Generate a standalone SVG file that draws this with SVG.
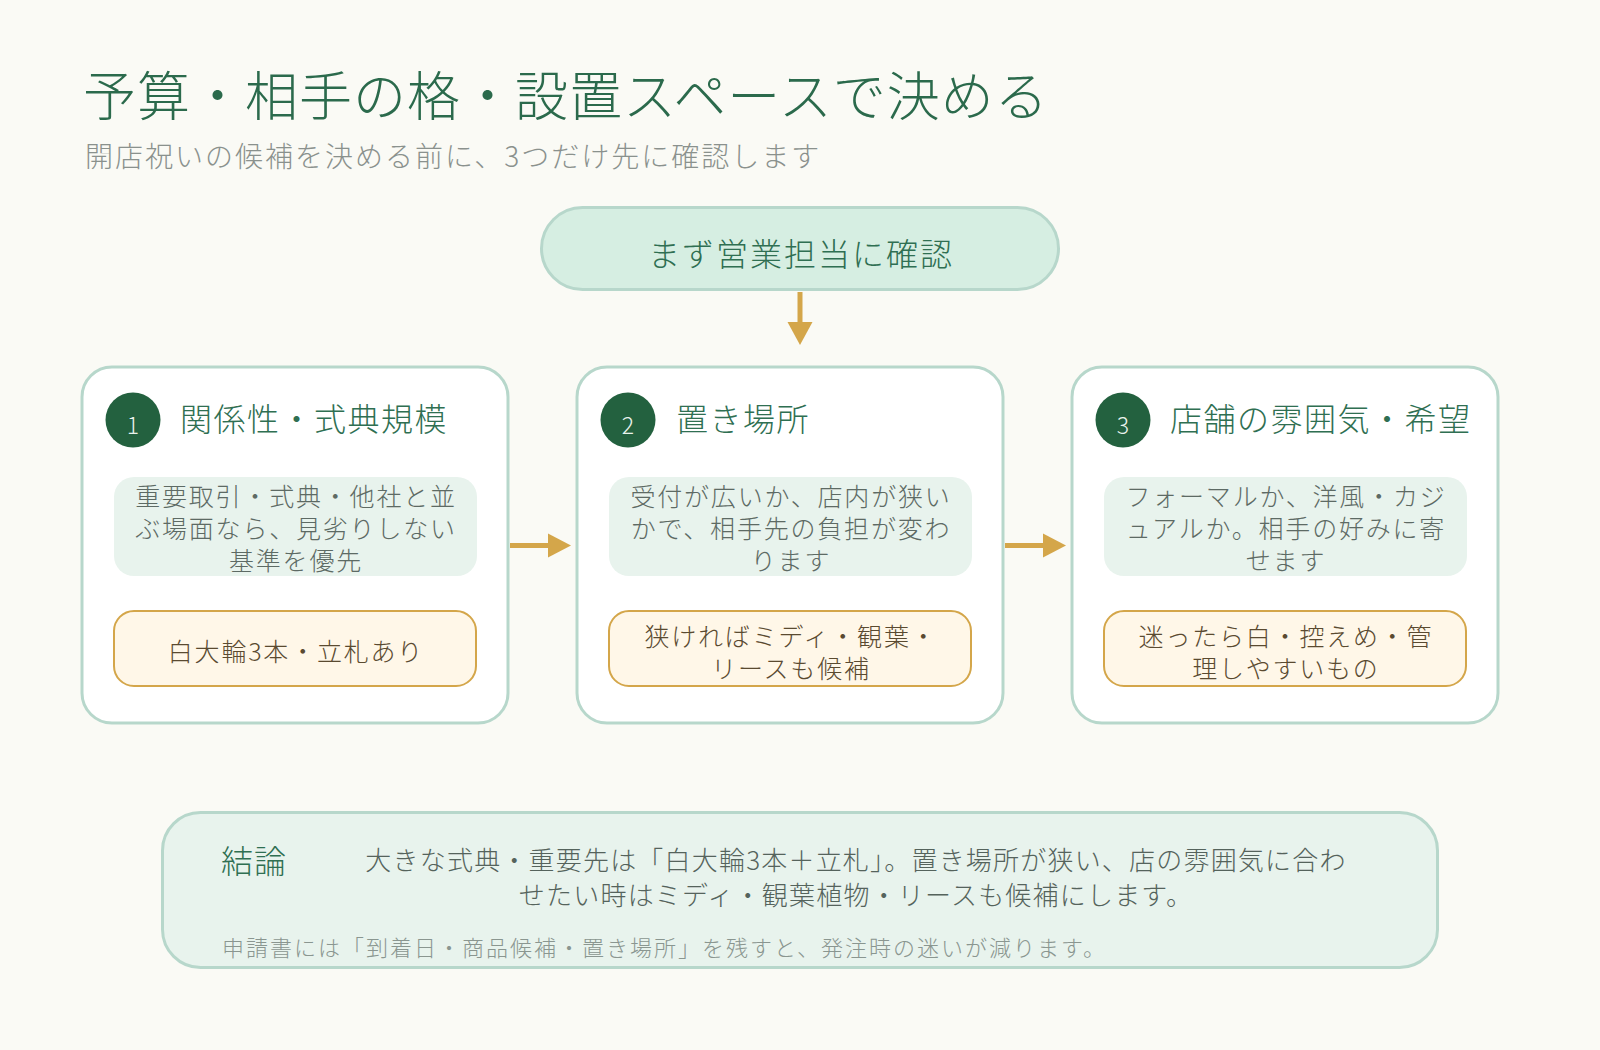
<svg xmlns="http://www.w3.org/2000/svg" width="1600" height="1050" viewBox="0 0 1600 1050">
<style>
text{font-family:"Noto Sans CJK JP Light","Noto Sans CJK JP DemiLight","Noto Sans CJK JP","Noto Sans",sans-serif;font-weight:300}
.title{font-size:53px;fill:#2b6a4c;letter-spacing:1px}
.sub{font-size:28px;fill:#8a918d;letter-spacing:2px}
.card{fill:#ffffff;stroke:#b7d7cb;stroke-width:3}
.desc{fill:#e8f3ed}
.note{fill:#fff7e8;stroke:#d4a64a;stroke-width:2}
.badge{fill:#23613f}
.num{font-size:23px;fill:#e9f2ec;text-anchor:middle}
.head{font-size:32px;fill:#2f6f52;letter-spacing:1.5px}
.dt{font-size:25px;fill:#5d6a64;letter-spacing:1.8px;text-anchor:middle}
.nt{font-size:25px;fill:#5a4a30;letter-spacing:1.8px;text-anchor:middle}
.conn{stroke:#d4a64a;stroke-width:5;fill:none}
.ah{fill:#d4a64a}
</style>
<defs>
<clipPath id="c1"><rect x="114" y="477" width="363" height="99" rx="20"/></clipPath>
<clipPath id="c2"><rect x="609" y="477" width="363" height="99" rx="20"/></clipPath>
<clipPath id="c3"><rect x="1104" y="477" width="363" height="99" rx="20"/></clipPath>
</defs>
<rect x="0" y="0" width="1600" height="1050" fill="#fafaf5"/>

<g id="header">
<text class="title" x="83" y="116">予算・相手の格・設置スペースで決める</text>
<text class="sub" x="85" y="167">開店祝いの候補を決める前に、3つだけ先に確認します</text>
</g>

<g id="start">
<rect x="541.5" y="207.5" width="517" height="82" rx="41" fill="#d6eee2" stroke="#b7d7cb" stroke-width="3"/>
<text x="801" y="266" font-size="32" fill="#2f6f52" letter-spacing="2" text-anchor="middle">まず営業担当に確認</text>
</g>

<g id="card1">
<rect class="card" x="82" y="367" width="426" height="356" rx="30"/>
<circle class="badge" cx="133" cy="420" r="27.5"/>
<text class="num" x="133" y="434">1</text>
<text class="head" x="180" y="431">関係性・式典規模</text>
<rect class="desc" x="114" y="477" width="363" height="99" rx="20"/>
<g clip-path="url(#c1)">
<text class="dt" x="296" y="506">重要取引・式典・他社と並</text>
<text class="dt" x="296" y="538">ぶ場面なら、見劣りしない</text>
<text class="dt" x="296" y="570">基準を優先</text>
</g>
<rect class="note" x="114" y="611" width="362" height="75" rx="20"/>
<text class="nt" x="296" y="661">白大輪3本・立札あり</text>
</g>

<g id="card2">
<rect class="card" x="577" y="367" width="426" height="356" rx="30"/>
<circle class="badge" cx="628" cy="420" r="27.5"/>
<text class="num" x="628" y="434">2</text>
<text class="head" x="676" y="431">置き場所</text>
<rect class="desc" x="609" y="477" width="363" height="99" rx="20"/>
<g clip-path="url(#c2)">
<text class="dt" x="791" y="506">受付が広いか、店内が狭い</text>
<text class="dt" x="791" y="538">かで、相手先の負担が変わ</text>
<text class="dt" x="791" y="570">ります</text>
</g>
<rect class="note" x="609" y="611" width="362" height="75" rx="20"/>
<text class="nt" x="791" y="646">狭ければミディ・観葉・</text>
<text class="nt" x="791" y="678">リースも候補</text>
</g>

<g id="card3">
<rect class="card" x="1072" y="367" width="426" height="356" rx="30"/>
<circle class="badge" cx="1123" cy="420" r="27.5"/>
<text class="num" x="1123" y="434">3</text>
<text class="head" x="1170" y="431">店舗の雰囲気・希望</text>
<rect class="desc" x="1104" y="477" width="363" height="99" rx="20"/>
<g clip-path="url(#c3)">
<text class="dt" x="1286" y="506">フォーマルか、洋風・カジ</text>
<text class="dt" x="1286" y="538">ュアルか。相手の好みに寄</text>
<text class="dt" x="1286" y="570">せます</text>
</g>
<rect class="note" x="1104" y="611" width="362" height="75" rx="20"/>
<text class="nt" x="1286" y="646">迷ったら白・控えめ・管</text>
<text class="nt" x="1286" y="678">理しやすいもの</text>
</g>

<g id="connectors">
<line class="conn" x1="800" y1="292" x2="800" y2="325"/>
<polygon class="ah" points="787.5,322 812.5,322 800,345"/>
<line class="conn" x1="510" y1="545.5" x2="550" y2="545.5"/>
<polygon class="ah" points="548,533.5 548,557.5 571,545.5"/>
<line class="conn" x1="1005" y1="545.5" x2="1045" y2="545.5"/>
<polygon class="ah" points="1043,533.5 1043,557.5 1066,545.5"/>
</g>

<g id="conclusion">
<rect x="162.5" y="812.5" width="1275" height="155" rx="38" fill="#e8f3ed" stroke="#b7d7cb" stroke-width="3"/>
<text x="221" y="873" font-size="32" fill="#2f6f52" letter-spacing="1">結論</text>
<text x="856" y="870" font-size="26" fill="#55635c" letter-spacing="1.2" text-anchor="middle">大きな式典・重要先は「白大輪3本＋立札」。置き場所が狭い、店の雰囲気に合わ</text>
<text x="856" y="905" font-size="26" fill="#55635c" letter-spacing="1.2" text-anchor="middle">せたい時はミディ・観葉植物・リースも候補にします。</text>
<text x="222" y="956" font-size="22" fill="#8a9690" letter-spacing="2">申請書には「到着日・商品候補・置き場所」を残すと、発注時の迷いが減ります。</text>
</g>
</svg>
